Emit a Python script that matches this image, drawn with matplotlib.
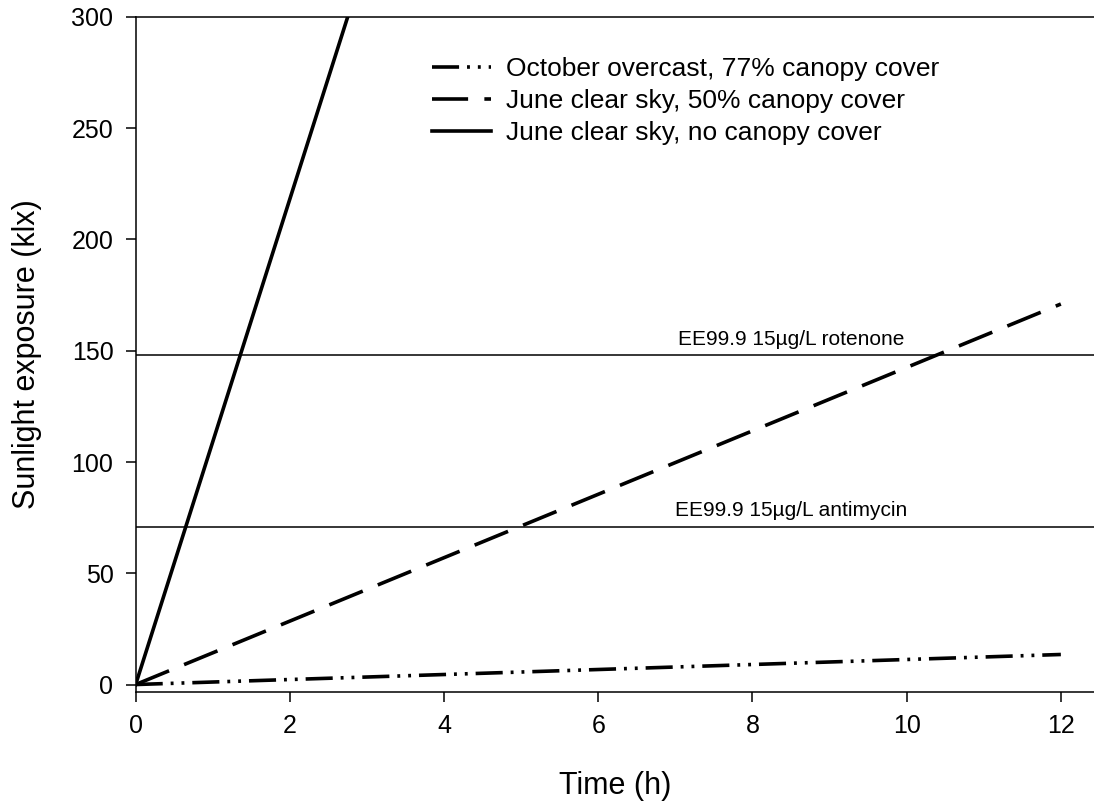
import matplotlib
matplotlib.use("Agg")
import matplotlib.pyplot as plt

plt.rcParams['font.family'] = ['Liberation Sans', 'DejaVu Sans']

# Cumulative sunlight exposure (klx) against time (h)
hours = [0, 12]
october_overcast = [0, 13.5]
june_half_canopy = [0, 171]
open_hours = [0, 2.75]
june_no_canopy = [0, 300]

labels = ["October overcast, 77% canopy cover",
          "June clear sky, 50% canopy cover",
          "June clear sky, no canopy cover"]

# EE99.9 thresholds
thresholds = [148, 71]
threshold_labels = ["EE99.9 15µg/L rotenone", "EE99.9 15µg/L antimycin"]

fig = plt.figure(figsize=(10.94, 8.08), dpi=100)
ax = fig.add_axes([0.124, 0.144, 0.876, 0.835])

lw = 2.6
ax.plot(hours, october_overcast, color='black', lw=lw,
        linestyle=(0, (7.5, 2.2, 0.8, 2.2, 0.8, 2.2)), label=labels[0])
ax.plot(hours, june_half_canopy, color='black', lw=lw,
        linestyle=(0, (10, 4.5)), label=labels[1])
ax.plot(open_hours, june_no_canopy, color='black', lw=lw,
        linestyle='-', label=labels[2])

for val, txt in zip(thresholds, threshold_labels):
    ax.axhline(val, color='black', lw=1.1)
    ax.text(8.5, val + 3, txt, ha='center', va='bottom', fontsize=15)

ax.set_xlim(0, 12.43)
ax.set_ylim(-3.2, 300)
ax.set_xticks(range(0, 13, 2))
ax.set_yticks(range(0, 301, 50))
ax.tick_params(direction='out', length=7, width=1.1, labelsize=18, pad=9)
ax.spines['right'].set_visible(False)
for s in ['left', 'bottom', 'top']:
    ax.spines[s].set_linewidth(1.1)

ax.set_xlabel("Time (h)", fontsize=22)
ax.set_ylabel("Sunlight exposure (klx)", fontsize=22)
ax.xaxis.set_label_coords(0.5, -0.118)
ax.yaxis.set_label_coords(-0.098, 0.5)

ax.legend(loc='upper left', bbox_to_anchor=(431.7 / 1094, 1 - 57 / 808),
          bbox_transform=fig.transFigure, frameon=False, fontsize=19,
          handlelength=2.25, handletextpad=0.57, labelspacing=0.3,
          borderpad=0, borderaxespad=0)

fig.savefig("out.png", dpi=100)
